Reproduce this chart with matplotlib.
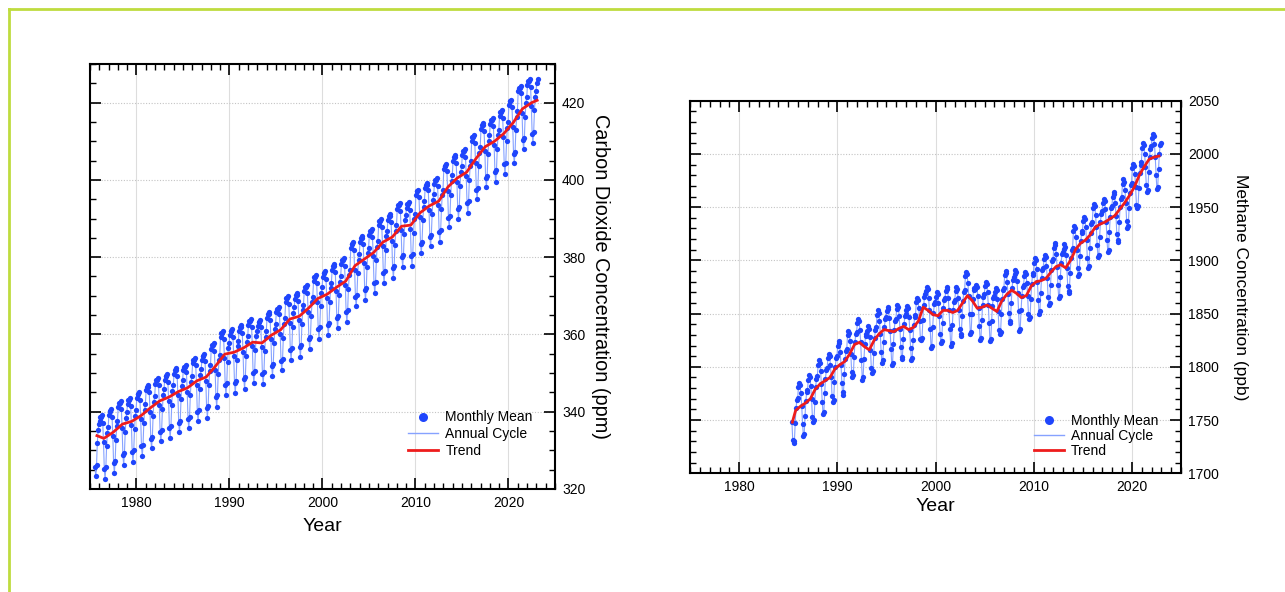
import numpy as np
import matplotlib
matplotlib.use('Agg')
import matplotlib.pyplot as plt
from matplotlib.ticker import MultipleLocator
from matplotlib.lines import Line2D

plt.rcParams['font.family'] = ['Liberation Sans', 'DejaVu Sans']

# --- carbon dioxide (ppm) ---
# trend, one value per calendar year
co2_years = list(range(1975, 2024))
co2_trend = [333.8, 333.1, 334.7, 336.8, 337.5, 339.0, 341.0, 342.8, 343.8, 345.2,
             346.2, 348.0, 349.0, 351.8, 354.9, 355.4, 356.5, 358.0, 357.8, 359.8,
             361.2, 364.0, 364.7, 366.8, 369.3, 370.4, 372.2, 373.8, 377.8, 379.5,
             381.2, 383.9, 385.2, 388.0, 388.3, 391.5, 393.3, 394.5, 398.2, 400.5,
             402.0, 405.5, 408.6, 410.0, 412.0, 414.8, 418.4, 420.0, 420.6]
co2_first_month = 6    # Jul 1975
co2_last_month = 1     # Feb 2023
# annual cycle, offset from trend for Jan..Dec
co2_cycle = [4.5, 5.5, 5.5, 6.0, 4.0, -1.0, -8.0, -10.5, -7.5, -2.0, 1.5, 3.0]

# --- methane (ppb) ---
# trend, two values per year (first half, second half)
ch4_years = list(range(1985, 2023))
ch4_trend = [1748, 1759, 1763, 1766, 1770, 1779, 1784, 1787, 1790, 1798,
             1802, 1805, 1812, 1821, 1823, 1819, 1816, 1825, 1831, 1835,
             1834, 1833, 1836, 1838, 1835, 1837, 1843, 1856, 1853, 1849,
             1848, 1853, 1853, 1851, 1853, 1860, 1867, 1862, 1855, 1856,
             1858, 1855, 1852, 1862, 1868, 1872, 1869, 1865, 1867, 1876,
             1880, 1881, 1883, 1889, 1894, 1896, 1893, 1900, 1910, 1916,
             1919, 1924, 1931, 1934, 1936, 1939, 1942, 1948, 1954, 1961,
             1969, 1980, 1988, 1995, 1997, 1998]
ch4_first_month = 4    # May 1985
ch4_last_month = 11    # Dec 2022
ch4_cycle = [18, 22, 20, 12, 0, -17, -31, -29, -12, 2, 10, 12]

BLUE = '#1f45fc'
LIGHT = '#86a2ff'
RED = '#ee1c1c'


def monthly(years, trend, cycle, first, last, per_year):
    t, v, tx, tv = [], [], [], []
    for i, yr in enumerate(years):
        m0 = first if i == 0 else 0
        m1 = last if i == len(years) - 1 else 11
        for k in range(per_year):
            ms = [m for m in range(m0, m1 + 1) if m * per_year // 12 == k]
            if not ms:
                continue
            level = trend[i * per_year + k]
            mt = [yr + (m + 0.5) / 12 for m in ms]
            t += mt
            v += [level + cycle[m] for m in ms]
            tx.append(np.mean(mt))
            tv.append(level)
    return t, v, tx, tv


def panel(ax, data, ylim, ymajor, yminor, ylabel, ylabelsize, ylabelpad,
          xlabelpad, leg_anchor, leg_spacing):
    t, v, tx, tv = data
    ax.plot(t, v, color=LIGHT, lw=0.8, zorder=2)
    ax.plot(t, v, 'o', color=BLUE, ms=3.8, mec='none', zorder=3)
    ax.plot(tx, tv, color=RED, lw=2, zorder=4)

    ax.set_xlim(1975, 2025)
    ax.set_ylim(*ylim)
    ax.xaxis.set_major_locator(MultipleLocator(10))
    ax.xaxis.set_minor_locator(MultipleLocator(1))
    ax.yaxis.set_major_locator(MultipleLocator(ymajor))
    ax.yaxis.set_minor_locator(MultipleLocator(yminor))
    ax.yaxis.tick_right()
    ax.yaxis.set_label_position('right')
    ax.tick_params(which='both', direction='in', top=True, bottom=True,
                   left=True, right=True, labelleft=False, labelright=True,
                   labelsize=10)
    ax.tick_params(which='major', length=8, width=1.2, pad=5)
    ax.tick_params(which='minor', length=4, width=1.0)
    for s in ax.spines.values():
        s.set_linewidth(1.5)
    ax.xaxis.grid(True, which='major', color='#dddddd', lw=0.8)
    ax.yaxis.grid(True, which='major', color='#c4c4c4', lw=0.8, ls=(0, (1, 1.5)))
    ax.set_axisbelow(True)

    ax.set_xlabel('Year', fontsize=14, labelpad=xlabelpad)
    ax.set_ylabel(ylabel, fontsize=ylabelsize, rotation=270, va='bottom',
                  labelpad=ylabelpad)

    handles = [Line2D([], [], marker='o', ls='none', color=BLUE, ms=6.5, mec='none'),
               Line2D([], [], color=LIGHT, lw=1),
               Line2D([], [], color=RED, lw=2)]
    ax.legend(handles, ['Monthly Mean', 'Annual Cycle', 'Trend'], loc='lower right',
              bbox_to_anchor=leg_anchor, frameon=False, fontsize=10,
              handlelength=2.2, labelspacing=leg_spacing, handletextpad=0.5,
              borderaxespad=0, borderpad=0)


fig = plt.figure(figsize=(12.85, 5.92), dpi=100)
ax1 = fig.add_axes([0.0700, 0.1740, 0.3619, 0.7179])
ax2 = fig.add_axes([0.5370, 0.2005, 0.3821, 0.6294])

panel(ax1, monthly(co2_years, co2_trend, co2_cycle, co2_first_month, co2_last_month, 1),
      (320, 430), 20, 5, 'Carbon Dioxide Concentration (ppm)', 14.3, 4, 6,
      (0.952, 0.073), 0.2)
panel(ax2, monthly(ch4_years, ch4_trend, ch4_cycle, ch4_first_month, ch4_last_month, 2),
      (1700, 2050), 50, 10, 'Methane Concentration (ppb)', 12.5, 10, 3,
      (0.954, 0.042), 0.05)

# yellow-green frame on the top and left edges
bx, by = 9 / 1285, 1 - 9 / 592
fig.add_artist(Line2D([bx, bx], [0, by], transform=fig.transFigure, color='#bfdc3f', lw=2))
fig.add_artist(Line2D([bx, 1], [by, by], transform=fig.transFigure, color='#bfdc3f', lw=2))

fig.savefig('out.png', dpi=100)
